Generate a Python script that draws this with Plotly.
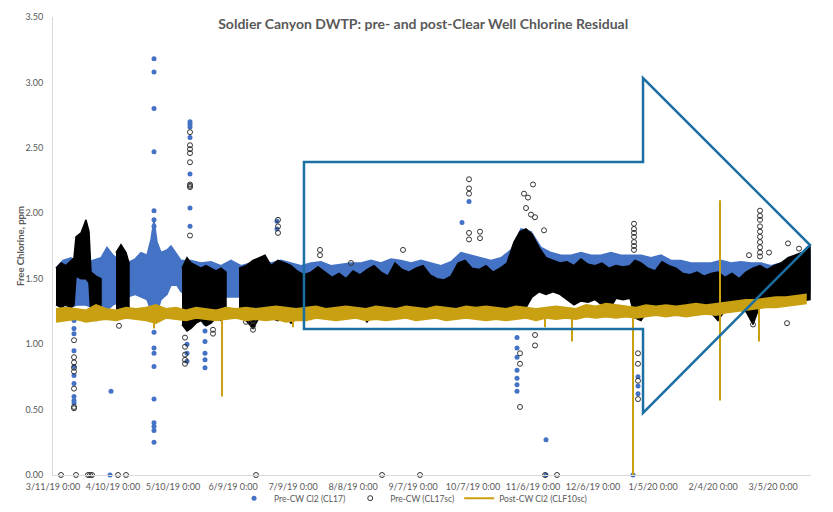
import pandas as pd
import plotly.graph_objects as go

START = pd.Timestamp("2019-03-11")

# ---- axis ticks ----
x_tick_dates = ["2019-03-11", "2019-04-10", "2019-05-10", "2019-06-09", "2019-07-09",
                "2019-08-08", "2019-09-07", "2019-10-07", "2019-11-06", "2019-12-06",
                "2020-01-05", "2020-02-04", "2020-03-05"]
x_tick_labels = ["3/11/19 0:00", "4/10/19 0:00", "5/10/19 0:00", "6/9/19 0:00", "7/9/19 0:00",
                 "8/8/19 0:00", "9/7/19 0:00", "10/7/19 0:00", "11/6/19 0:00", "12/6/19 0:00",
                 "1/5/20 0:00", "2/4/20 0:00", "3/5/20 0:00"]
y_ticks = [0.0, 0.5, 1.0, 1.5, 2.0, 2.5, 3.0, 3.5]

# ---- Pre-CW Cl2 (CL17): dense band envelope (day offset from 3/11/19) ----
blue_day = [1.5, 5, 9, 12, 16, 20, 24, 27, 30, 33, 37, 41, 44, 47, 49, 50.5, 52, 54, 57, 59, 62, 64,
            69, 74, 79, 84, 89, 94, 99, 104, 109, 114, 119, 124, 129, 134, 139, 144, 149, 154, 159,
            164, 169, 174, 179, 184, 189, 194, 199, 204, 209, 214, 219, 224, 229, 234, 239, 244, 249,
            254, 259, 264, 269, 274, 279, 284, 289, 294, 299, 304, 309, 314, 319, 324, 329, 334, 339,
            344, 349, 354, 359, 364, 369, 374, 378.5]
blue_lo = [1.32, 1.30, 1.28, 1.30, 1.30, 1.28, 1.28, 1.26, 1.30, 1.32, 1.36, 1.38, 1.36, 1.34, 1.26, 1.22,
           1.24, 1.34, 1.38, 1.45, 1.45, 1.40,
           1.36, 1.36, 1.36, 1.36, 1.36, 1.36, 1.36, 1.36, 1.36, 1.36, 1.36, 1.36, 1.36, 1.36, 1.36,
           1.36, 1.36, 1.36, 1.36, 1.36, 1.36, 1.36, 1.36, 1.36, 1.36, 1.36, 1.36, 1.36, 1.36, 1.36,
           1.36, 1.36, 1.36, 1.36, 1.42, 1.42, 1.42, 1.42, 1.36, 1.36, 1.36, 1.36, 1.36, 1.36, 1.36,
           1.36, 1.36, 1.36, 1.36, 1.36, 1.36, 1.36, 1.36, 1.36, 1.36, 1.36, 1.36, 1.36, 1.36, 1.36,
           1.36, 1.38, 1.40]
blue_hi = [1.58, 1.64, 1.66, 1.62, 1.62, 1.64, 1.66, 1.74, 1.68, 1.64, 1.62, 1.65, 1.70, 1.68, 1.80, 1.95,
           1.78, 1.70, 1.72, 1.75, 1.68, 1.64,
           1.64, 1.62, 1.63, 1.60, 1.64, 1.60, 1.62, 1.64, 1.62, 1.64, 1.62, 1.60, 1.62, 1.63, 1.60,
           1.61, 1.62, 1.62, 1.64, 1.62, 1.65, 1.64, 1.62, 1.64, 1.62, 1.60, 1.63, 1.70, 1.68, 1.66,
           1.64, 1.66, 1.72, 1.88, 1.86, 1.74, 1.70, 1.68, 1.68, 1.70, 1.68, 1.68, 1.70, 1.68, 1.68,
           1.68, 1.66, 1.68, 1.64, 1.64, 1.62, 1.62, 1.62, 1.64, 1.62, 1.63, 1.62, 1.62, 1.60, 1.62,
           1.66, 1.68, 1.72]

# Pre-CW Cl2 (CL17): isolated readings
blue_pt_day = [50.5] * 17 + [68.5] * 7 + [10.5] * 10 + [29, 28.5] + [76] * 7 + [67] * 3 + \
              [204.5, 208, 112, 112] + [232] * 7 + [246.5, 246.5, 290] + [292.5] * 3
blue_pt_val = [3.18, 3.08, 2.80, 2.47, 2.02, 1.95, 1.90, 1.21, 1.09, 0.97, 0.93, 0.83, 0.58, 0.40, 0.37, 0.34, 0.25,
               2.70, 2.68, 2.66, 2.58, 2.30, 2.04, 1.90,
               1.18, 1.12, 1.08, 0.95, 0.83, 0.76, 0.70, 0.60, 0.57, 0.55,
               0.64, 0.00,
               1.23, 1.16, 1.10, 1.02, 0.93, 0.88, 0.82,
               1.00, 0.93, 0.87,
               1.93, 2.09, 1.94, 1.88,
               1.05, 0.97, 0.90, 0.80, 0.74, 0.69, 0.64,
               0.27, 0.00, 0.00,
               0.75, 0.68, 0.62]

# ---- Pre-CW (CL17sc): dense band envelope, None = no data ----
black_day = [1.5, 4, 6.5, 9, 10.5, 11.5, 14, 16.5, 18, 19, 21.5, 24, None,
             31.5, 34, 36.5, 38, None,
             64.5, 67, 69, 71.5, 74, 76.5, 79, 81.5, 84, 86.5, None,
             93, 96.5, 100, 103, 106, 109, 112.5, 116, 119, 122, 125.5, 129, 132.5, 136, 139.5, 143,
             146.5, 150, 153.5, 157, 160.5, 164, 167.5, 171, 174.5, 178, 181.5, 185, 188.5, 192, 195.5,
             199, 202.5, 206, 209.5, 213, 216.5, 220, 223.5, 227, 230.5, 233.5, 236.5, 239.5, 243,
             246.5, 250, 253.5, 257, 260.5, 264, 267.5, 271, 274.5, 278, 281.5, 285, 288.5, 291, 294,
             297.5, 301, 304.5, 308, 311.5, 315, 318.5, 322, 325.5, 329, 332.5, 336, 339.5, 343, 346.5,
             350, 353.5, 357, 360.5, 364, 367.5, 371, 374.5, 378.5]
black_lo = [1.30, 1.28, 1.30, 1.28, 1.30, 1.52, 1.50, 1.50, 1.47, 1.20, 1.18, 1.22, None,
            1.24, 1.22, 1.22, 1.26, None,
            1.15, 1.10, 1.12, 1.16, 1.18, 1.14, 1.16, 1.20, 1.18, 1.22, None,
            1.22, 1.18, 1.12, 1.20, 1.22, 1.20, 1.18, 1.22, 1.16, 1.20, 1.22, 1.19, 1.25, 1.26, 1.21, 1.22,
            1.21, 1.24, 1.24, 1.17, 1.24, 1.24, 1.24, 1.19, 1.25, 1.25, 1.25, 1.20, 1.25, 1.25, 1.26,
            1.25, 1.27, 1.26, 1.27, 1.25, 1.24, 1.26, 1.24, 1.22, 1.20, 1.21, 1.28, 1.36, 1.40,
            1.38, 1.40, 1.38, 1.34, 1.30, 1.33, 1.32, 1.34, 1.30, 1.26, 1.35, 1.34, 1.35, 1.20, 1.18,
            1.26, 1.25, 1.26, 1.25, 1.26, 1.25, 1.24, 1.26, 1.25, 1.24, 1.18, 1.26, 1.27, 1.26, 1.25,
            1.15, 1.30, 1.32, 1.33, 1.32, 1.31, 1.32, 1.33, 1.34]
black_hi = [1.58, 1.62, 1.60, 1.64, 1.66, 1.82, 1.85, 1.95, 1.86, 1.55, 1.52, 1.50, None,
            1.70, 1.76, 1.70, 1.62, None,
            1.58, 1.66, 1.62, 1.60, 1.58, 1.60, 1.58, 1.56, 1.58, 1.55, None,
            1.58, 1.60, 1.64, 1.66, 1.68, 1.60, 1.64, 1.62, 1.60, 1.56, 1.53, 1.55, 1.59, 1.55, 1.51, 1.54,
            1.50, 1.56, 1.53, 1.57, 1.60, 1.55, 1.52, 1.62, 1.57, 1.55, 1.58, 1.60, 1.53, 1.50, 1.49,
            1.52, 1.62, 1.64, 1.58, 1.57, 1.60, 1.55, 1.58, 1.62, 1.78, 1.86, 1.88, 1.84, 1.74,
            1.66, 1.64, 1.62, 1.63, 1.60, 1.65, 1.61, 1.60, 1.62, 1.58, 1.60, 1.59, 1.60, 1.64, 1.62,
            1.58, 1.56, 1.63, 1.60, 1.58, 1.54, 1.53, 1.55, 1.52, 1.54, 1.55, 1.51, 1.54, 1.50, 1.55,
            1.58, 1.60, 1.57, 1.60, 1.62, 1.66, 1.68, 1.70, 1.76]

# Pre-CW (CL17sc): isolated readings
black_pt_day = [4, 11.5, 17.5, 18.5, 19.5, 32.5, 36.5, 101.5, 164.5, 183.5, 246, 252] + \
               [10.5] * 8 + [33] + [68.5] * 9 + [66] * 5 + [80, 80, 96.5, 100, 100, 100] + \
               [112.5] * 3 + [133.5, 133.5, 149, 175] + [208] * 5 + [213.5, 213.5] + \
               [235.5, 236.5, 237.5, 239, 240, 241, 245.5, 241, 241, 233.5, 233.5, 233.5] + \
               [290.5] * 7 + [292.5] * 4 + [348] + [353.5] * 10 + [358, 367, 367.5, 373, 350]
black_pt_val = [0.0] * 12 + \
               [1.03, 0.90, 0.86, 0.82, 0.79, 0.66, 0.52, 0.51] + [1.14] + \
               [2.62, 2.52, 2.49, 2.46, 2.39, 2.22, 2.20, 2.21, 1.83] + \
               [1.05, 0.98, 0.92, 0.88, 0.85] + [1.11, 1.08, 1.17, 1.18, 1.14, 1.11] + \
               [1.95, 1.90, 1.85] + [1.68, 1.72, 1.62, 1.72] + [2.26, 2.19, 2.15, 1.85, 1.80] + [1.86, 1.81] + \
               [2.15, 2.04, 2.12, 1.99, 2.22, 1.97, 1.87, 1.07, 0.99, 0.52, 0.85, 0.93] + \
               [1.92, 1.88, 1.85, 1.82, 1.78, 1.75, 1.72] + [0.93, 0.85, 0.72, 0.58] + [1.68] + \
               [2.02, 1.98, 1.95, 1.90, 1.86, 1.82, 1.78, 1.74, 1.70, 1.67] + [1.70, 1.16, 1.77, 1.73, 1.15]

# ---- Post-CW Cl2 (CLF10sc): noisy line envelope on a 5-day grid ----
gold_day = [1.5 + 5 * i for i in range(76)]
gold_lo = [1.17, 1.18, 1.19, 1.17, 1.18, 1.19, 1.18, 1.20, 1.19, 1.18, 1.16, 1.20, 1.19, 1.18, 1.20, 1.19,
           1.18, 1.19, 1.20, 1.18, 1.19, 1.18, 1.19, 1.17, 1.18, 1.18, 1.20, 1.19, 1.18, 1.19, 1.20, 1.18,
           1.19, 1.18, 1.19, 1.20, 1.18, 1.19, 1.20, 1.18, 1.19, 1.20, 1.19, 1.18, 1.19, 1.18, 1.19, 1.20,
           1.18, 1.20, 1.19, 1.20, 1.19, 1.21, 1.20, 1.21, 1.20, 1.21, 1.20, 1.21, 1.22, 1.21, 1.22, 1.21,
           1.22, 1.23, 1.22, 1.24, 1.25, 1.26, 1.27, 1.28, 1.28, 1.29, 1.30, 1.31]
gold_hi = [1.27, 1.28, 1.27, 1.26, 1.30, 1.27, 1.26, 1.28, 1.27, 1.28, 1.30, 1.27, 1.28, 1.26, 1.28, 1.27,
           1.26, 1.28, 1.27, 1.28, 1.27, 1.28, 1.29, 1.28, 1.27, 1.28, 1.29, 1.27, 1.28, 1.29, 1.28, 1.27,
           1.29, 1.28, 1.27, 1.29, 1.28, 1.27, 1.29, 1.28, 1.27, 1.29, 1.28, 1.29, 1.28, 1.27, 1.29, 1.28,
           1.27, 1.28, 1.29, 1.28, 1.27, 1.30, 1.29, 1.31, 1.30, 1.29, 1.28, 1.30, 1.29, 1.30, 1.29, 1.30,
           1.31, 1.30, 1.31, 1.32, 1.33, 1.34, 1.34, 1.35, 1.36, 1.36, 1.37, 1.38]
# Post-CW spikes: day, value where spike starts, value where it ends
spike_day = [50.5, 84.5, 120, 246, 259.5, 290, 333.5, 353]
spike_from = [1.20, 1.20, 1.20, 1.20, 1.22, 1.24, 0.57, 1.28]
spike_to = [1.12, 0.60, 1.13, 1.13, 1.02, 0.00, 2.10, 1.02]

# ---- styling ----
BLUE = "#4472C4"
BLACK = "#000000"
GOLD = "#C9A012"
GRAY = "#595959"
FONT = "Lato"


def to_dt(days):
    return [None if d is None else START + pd.Timedelta(days=d) for d in days]


def band(days, lo, hi, color, name):
    x = to_dt(days) + to_dt(days[::-1])
    y = list(hi) + list(lo[::-1])
    return go.Scatter(x=x, y=y, fill="toself", fillcolor=color, mode="lines",
                      line=dict(color=color, width=1.5), hoverinfo="skip",
                      showlegend=False, name=name)


def segments(days, lo, hi):
    out, cur = [], ([], [], [])
    for d, a, b in zip(days, lo, hi):
        if d is None:
            if cur[0]:
                out.append(cur)
            cur = ([], [], [])
        else:
            cur[0].append(d); cur[1].append(a); cur[2].append(b)
    if cur[0]:
        out.append(cur)
    return out


fig = go.Figure()

fig.add_trace(band(blue_day, blue_lo, blue_hi, BLUE, "Pre-CW Cl2 (CL17)"))
fig.add_trace(go.Scatter(x=to_dt(blue_pt_day), y=blue_pt_val, mode="markers", name="Pre-CW Cl2 (CL17)",
                         marker=dict(symbol="circle", size=5, color=BLUE), cliponaxis=False,
                         legendrank=1))

for d, a, b in segments(black_day, black_lo, black_hi):
    fig.add_trace(band(d, a, b, BLACK, "Pre-CW (CL17sc)"))
fig.add_trace(go.Scatter(x=to_dt(black_pt_day), y=black_pt_val, mode="markers", name="Pre-CW (CL17sc)",
                         marker=dict(symbol="circle-open", size=5, color="#333333", line=dict(width=1)),
                         cliponaxis=False, legendrank=2))

fig.add_trace(band(gold_day, gold_lo, gold_hi, GOLD, "Post-CW Cl2 (CLF10sc)"))
sx, sy = [], []
for d, a, b in zip(spike_day, spike_from, spike_to):
    t = START + pd.Timedelta(days=d)
    sx += [t, t, None]
    sy += [a, b, None]
fig.add_trace(go.Scatter(x=sx, y=sy, mode="lines", name="Post-CW Cl2 (CLF10sc)",
                         line=dict(color=GOLD, width=2), cliponaxis=False, legendrank=3))

# outline arrow drawn over the chart (paper coordinates)
arrow = [(0.3311, 0.6834), (0.7784, 0.6834), (0.7784, 0.8668), (0.9987, 0.5022),
         (0.7784, 0.1354), (0.7784, 0.3188), (0.3311, 0.3188)]
path = "M " + " L ".join(f"{x},{y}" for x, y in arrow) + " Z"
fig.add_shape(type="path", path=path, xref="paper", yref="paper",
              line=dict(color="#1B6FA3", width=2.5), fillcolor="rgba(0,0,0,0)", layer="above")

fig.update_layout(
    width=833, height=512,
    margin=dict(l=53, r=22, t=17, b=37, autoexpand=False),
    plot_bgcolor="white", paper_bgcolor="white",
    font=dict(family=FONT, color=GRAY, size=9),
    title=dict(text="<b>Soldier Canyon DWTP: pre- and post-Clear Well Chlorine Residual</b>",
               x=0.508, xanchor="center", y=0.953, yanchor="middle", yref="container",
               font=dict(family=FONT, size=14, color=GRAY)),
    legend=dict(orientation="h", x=0.475, xanchor="center", y=0.027, yanchor="middle",
                yref="container", font=dict(family=FONT, size=8.5, color=GRAY), itemwidth=30,
                traceorder="normal", bgcolor="rgba(0,0,0,0)"),
    xaxis=dict(type="date", range=[START, START + pd.Timedelta(days=379)], automargin=False,
               tickvals=pd.to_datetime(x_tick_dates), ticktext=x_tick_labels,
               showgrid=False, zeroline=False, showline=True, linecolor="#d9d9d9", linewidth=1,
               ticks="", ticklabelstandoff=3, tickfont=dict(family=FONT, size=9, color=GRAY)),
    yaxis=dict(range=[0, 3.5], tickvals=y_ticks, ticktext=[f"{v:.2f}" for v in y_ticks],
               automargin=False,
               showgrid=False, zeroline=False, showline=True, linecolor="#d9d9d9", linewidth=1,
               ticks="", ticklabelstandoff=7, tickfont=dict(family=FONT, size=9, color=GRAY)),
    annotations=[dict(text="<b>Free Chlorine, ppm</b>", textangle=-90, x=-0.0435, y=0.5,
                      xref="paper", yref="paper", xanchor="center", yanchor="middle",
                      showarrow=False, font=dict(family=FONT, size=9.5, color=GRAY))],
)

fig.write_html("out.html", config={"displayModeBar": False},
               post_script="document.body.style.margin='0';")
